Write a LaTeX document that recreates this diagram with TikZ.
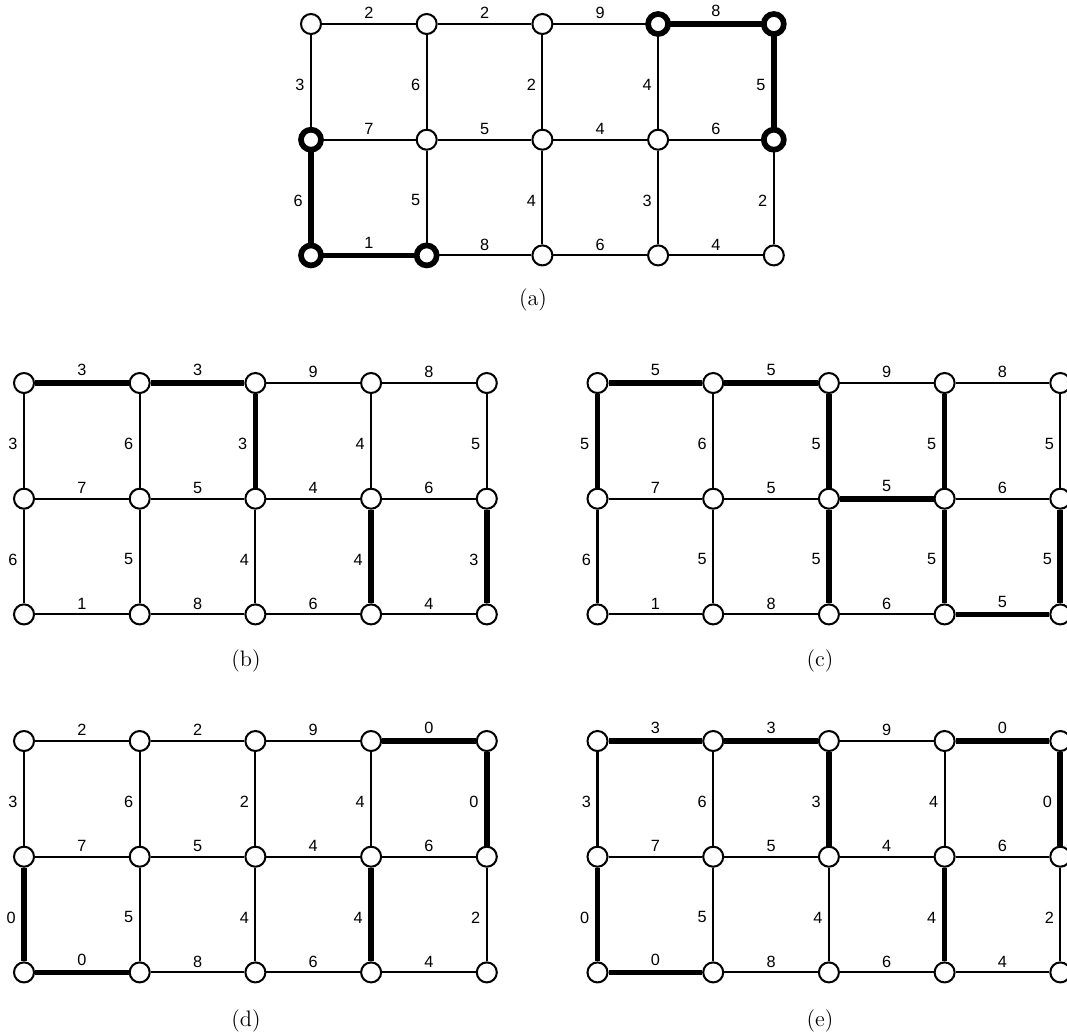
\documentclass[tikz,border=0pt]{standalone}
\usepackage{fontspec}
\newfontfamily\lblfont{Liberation Sans}
\usepackage{tikz}
\usetikzlibrary{calc}

\newcommand{\wfont}{\lblfont\fontsize{8}{10}\selectfont}

\begin{document}
\begin{tikzpicture}[
    x=0.017286cm, y=-0.017286cm,
    vtx/.style={circle, draw=black, fill=white, line width=1pt, minimum size=0.346cm, inner sep=0pt},
    lnk/.style={line width=1pt},
    hot/.style={line width=2.8pt},
    ring/.style={line width=2.8pt},
    hlbl/.style={anchor=south, inner sep=0pt, yshift=0.07cm, font=\wfont},
    vlbl/.style={anchor=east, inner sep=0pt, xshift=-0.095cm, yshift=-0.05cm, font=\wfont},
    subcap/.style={font=\fontsize{11}{13}\selectfont}
]
\useasboundingbox (0,0) rectangle (1067,1035);

% ── Vertices of all five grids ──
\foreach \p/\ox/\oy in {a/311/24, b/24/383, c/597.5/383, d/24/741, e/597.5/741}
  \foreach \row in {1,2,3}
    \foreach \col in {1,...,5}
      \node[vtx] (\p\row\col) at ({\ox+(\col-1)*115.7},{\oy+(\row-1)*115.7}) {};

% ── (a) ──
\foreach \row/\col/\wt/\sty [evaluate=\col as \nxt using int(\col+1)] in
  {1/1/2/lnk, 1/2/2/lnk, 1/3/9/lnk, 1/4/8/hot,
   2/1/7/lnk, 2/2/5/lnk, 2/3/4/lnk, 2/4/6/lnk,
   3/1/1/hot, 3/2/8/lnk, 3/3/6/lnk, 3/4/4/lnk}
  \draw[\sty] (a\row\col) -- node[hlbl] {\wt} (a\row\nxt);
\foreach \row/\col/\wt/\sty [evaluate=\row as \nxt using int(\row+1)] in
  {1/1/3/lnk, 1/2/6/lnk, 1/3/2/lnk, 1/4/4/lnk, 1/5/5/hot,
   2/1/6/hot, 2/2/5/lnk, 2/3/4/lnk, 2/4/3/lnk, 2/5/2/lnk}
  \draw[\sty] (a\row\col) -- node[vlbl] {\wt} (a\nxt\col);
\foreach \v in {a14, a15, a25, a21, a31, a32}
  \draw[ring] (\v.center) circle[radius=0.173cm];
\node[subcap] (capa) at (533,300) {(a)};

% ── (b) ──
\foreach \row/\col/\wt/\sty [evaluate=\col as \nxt using int(\col+1)] in
  {1/1/3/hot, 1/2/3/hot, 1/3/9/lnk, 1/4/8/lnk,
   2/1/7/lnk, 2/2/5/lnk, 2/3/4/lnk, 2/4/6/lnk,
   3/1/1/lnk, 3/2/8/lnk, 3/3/6/lnk, 3/4/4/lnk}
  \draw[\sty] (b\row\col) -- node[hlbl] {\wt} (b\row\nxt);
\foreach \row/\col/\wt/\sty [evaluate=\row as \nxt using int(\row+1)] in
  {1/1/3/lnk, 1/2/6/lnk, 1/3/3/hot, 1/4/4/lnk, 1/5/5/lnk,
   2/1/6/lnk, 2/2/5/lnk, 2/3/4/lnk, 2/4/4/hot, 2/5/3/hot}
  \draw[\sty] (b\row\col) -- node[vlbl] {\wt} (b\nxt\col);
\node[subcap] (capb) at (246,661) {(b)};

% ── (c) ──
\foreach \row/\col/\wt/\sty [evaluate=\col as \nxt using int(\col+1)] in
  {1/1/5/hot, 1/2/5/hot, 1/3/9/lnk, 1/4/8/lnk,
   2/1/7/lnk, 2/2/5/lnk, 2/3/5/hot, 2/4/6/lnk,
   3/1/1/lnk, 3/2/8/lnk, 3/3/6/lnk, 3/4/5/hot}
  \draw[\sty] (c\row\col) -- node[hlbl] {\wt} (c\row\nxt);
\foreach \row/\col/\wt/\sty [evaluate=\row as \nxt using int(\row+1)] in
  {1/1/5/hot, 1/2/6/lnk, 1/3/5/hot, 1/4/5/hot, 1/5/5/lnk,
   2/1/6/lnk, 2/2/5/lnk, 2/3/5/hot, 2/4/5/hot, 2/5/5/hot}
  \draw[\sty] (c\row\col) -- node[vlbl] {\wt} (c\nxt\col);
\node[subcap] (capc) at (820,661) {(c)};

% ── (d) ──
\foreach \row/\col/\wt/\sty [evaluate=\col as \nxt using int(\col+1)] in
  {1/1/2/lnk, 1/2/2/lnk, 1/3/9/lnk, 1/4/0/hot,
   2/1/7/lnk, 2/2/5/lnk, 2/3/4/lnk, 2/4/6/lnk,
   3/1/0/hot, 3/2/8/lnk, 3/3/6/lnk, 3/4/4/lnk}
  \draw[\sty] (d\row\col) -- node[hlbl] {\wt} (d\row\nxt);
\foreach \row/\col/\wt/\sty [evaluate=\row as \nxt using int(\row+1)] in
  {1/1/3/lnk, 1/2/6/lnk, 1/3/2/lnk, 1/4/4/lnk, 1/5/0/hot,
   2/1/0/hot, 2/2/5/lnk, 2/3/4/lnk, 2/4/4/hot, 2/5/2/lnk}
  \draw[\sty] (d\row\col) -- node[vlbl] {\wt} (d\nxt\col);
\node[subcap] (capd) at (246,1021) {(d)};

% ── (e) ──
\foreach \row/\col/\wt/\sty [evaluate=\col as \nxt using int(\col+1)] in
  {1/1/3/hot, 1/2/3/hot, 1/3/9/lnk, 1/4/0/hot,
   2/1/7/lnk, 2/2/5/lnk, 2/3/4/lnk, 2/4/6/lnk,
   3/1/0/hot, 3/2/8/lnk, 3/3/6/lnk, 3/4/4/lnk}
  \draw[\sty] (e\row\col) -- node[hlbl] {\wt} (e\row\nxt);
\foreach \row/\col/\wt/\sty [evaluate=\row as \nxt using int(\row+1)] in
  {1/1/3/lnk, 1/2/6/lnk, 1/3/3/hot, 1/4/4/lnk, 1/5/0/hot,
   2/1/0/hot, 2/2/5/lnk, 2/3/4/lnk, 2/4/4/hot, 2/5/2/lnk}
  \draw[\sty] (e\row\col) -- node[vlbl] {\wt} (e\nxt\col);
\node[subcap] (cape) at (820,1021) {(e)};

\end{tikzpicture}
\end{document}
